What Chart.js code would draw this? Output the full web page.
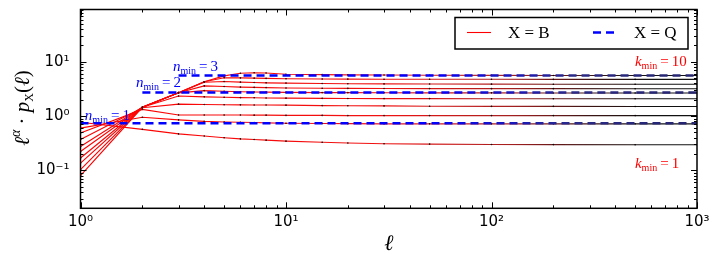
<!DOCTYPE html>
<html>
<head>
<meta charset="utf-8">
<script src="https://cdn.jsdelivr.net/npm/chart.js@4.4.1/dist/chart.umd.min.js"></script>
<style>
  body { margin: 0; background: #fff; }
</style>
</head>
<body>
<canvas id="plot" width="720" height="267"></canvas>
<script>
// sample points along ell (log axis)
const ells = [1, 2, 3, 4, 5, 6, 7, 8, 10, 15, 20, 30, 50, 100, 200, 500, 1000];

// X = B curves, one per k_min
const kmin1  = [0.77, 0.57, 0.47, 0.43, 0.40, 0.38, 0.37, 0.36, 0.345, 0.33, 0.32, 0.31, 0.305, 0.30, 0.298, 0.296, 0.296];
const kmin2  = [0.60, 0.95, 0.85, 0.80, 0.78, 0.77, 0.76, 0.75, 0.74, 0.73, 0.725, 0.72, 0.72, 0.72, 0.72, 0.72, 0.72];
const kmin3  = [0.49, 1.33, 1.05, 1.05, 1.05, 1.05, 1.04, 1.04, 1.03, 1.03, 1.02, 1.02, 1.02, 1.02, 1.02, 1.02, 1.02];
const kmin4  = [0.37, 1.42, 1.66, 1.64, 1.62, 1.61, 1.60, 1.60, 1.59, 1.56, 1.55, 1.54, 1.52, 1.51, 1.51, 1.50, 1.50];
const kmin5  = [0.275, 1.45, 2.35, 2.26, 2.22, 2.19, 2.17, 2.16, 2.14, 2.12, 2.11, 2.10, 2.10, 2.09, 2.09, 2.08, 2.08];
const kmin6  = [0.223, 1.45, 2.68, 2.95, 2.86, 2.81, 2.78, 2.76, 2.73, 2.71, 2.70, 2.69, 2.68, 2.68, 2.67, 2.67, 2.67];
const kmin7  = [0.169, 1.45, 2.70, 3.60, 3.50, 3.42, 3.38, 3.35, 3.30, 3.26, 3.24, 3.22, 3.21, 3.20, 3.20, 3.19, 3.19];
const kmin8  = [0.136, 1.45, 2.70, 4.20, 4.35, 4.22, 4.15, 4.10, 4.05, 3.98, 3.95, 3.92, 3.90, 3.88, 3.87, 3.86, 3.86];
const kmin9  = [0.103, 1.45, 2.70, 4.30, 5.10, 5.05, 5.00, 4.95, 4.87, 4.82, 4.80, 4.78, 4.77, 4.76, 4.75, 4.75, 4.75];
const kmin10 = [0.080, 1.45, 2.70, 4.30, 5.50, 6.15, 6.30, 6.22, 5.90, 5.80, 5.74, 5.70, 5.66, 5.63, 5.61, 5.60, 5.60];

// X = Q levels, each starting at ell = n_min
const nminStart  = [1, 2, 3];
const nminLevels = [0.74, 2.72, 5.6];

const redSeries = [kmin1, kmin2, kmin3, kmin4, kmin5, kmin6, kmin7, kmin8, kmin9, kmin10];

const tickFont = { family: 'DejaVu Sans', size: 15 };
const serif = '"Liberation Serif", "DejaVu Serif", serif';
const sup = { '-': '\u207B', '0': '\u2070', '1': '\u00B9', '2': '\u00B2', '3': '\u00B3' };

function powLabel(v) {
	const e = Math.log10(v);
	if (Math.abs(e - Math.round(e)) > 1e-6) return '';
	return '10' + String(Math.round(e)).split('').map(ch => sup[ch]).join('');
}

// horizontal colour fade along the x scale (red lines turn dark where the dots pile up)
function fade(stops) {
	return (c) => {
		const ch = c.chart, a = ch.chartArea, sx = ch.scales.x;
		if (!a || !sx) return stops[0][1];
		const g = ch.ctx.createLinearGradient(a.left, 0, a.right, 0);
		stops.forEach(([l, col]) => {
			const f = (sx.getPixelForValue(l) - a.left) / (a.right - a.left);
			g.addColorStop(Math.min(1, Math.max(0, f)), col);
		});
		return g;
	};
}

const redFade = fade([[1, '#ff0000'], [30, '#f01212'], [120, '#a82020'], [300, '#3c1414'], [600, '#111111']]);
const blueFade = fade([[1, '#0000ff'], [50, '#0000ff'], [250, '#2a2a88'], [1000, '#24246e']]);

const datasets = [];
redSeries.forEach(vals => {
	datasets.push({
		data: ells.map((l, i) => ({ x: l, y: vals[i] })),
		borderColor: redFade,
		borderWidth: 1.1,
		pointRadius: 0.8,
		pointBackgroundColor: '#000',
		pointBorderWidth: 0,
		tension: 0,
		order: 1
	});
});
nminLevels.forEach((v, i) => {
	datasets.push({
		data: [{ x: nminStart[i], y: v }, { x: 1000, y: v }],
		borderColor: blueFade,
		borderWidth: 2.6,
		borderDash: [8, 5],
		pointRadius: 0,
		order: 0
	});
});

// text runs: [text, font, dy]
function drawRuns(c, x, y, runs, align) {
	let w = 0;
	runs.forEach(r => { c.font = r[1]; w += c.measureText(r[0]).width; });
	let px = align === 'center' ? x - w / 2 : x;
	runs.forEach(r => {
		c.font = r[1];
		c.fillText(r[0], px, y + (r[2] || 0));
		px += c.measureText(r[0]).width;
	});
}

const notes = [
	{ l: 1.05, v: 0.855, sym: 'n', val: '1', color: '#0000ff' },
	{ l: 1.86, v: 3.46, sym: 'n', val: '2', color: '#0000ff' },
	{ l: 2.82, v: 6.63, sym: 'n', val: '3', color: '#0000ff' },
	{ l: 499, v: 8.2, sym: 'k', val: '10', color: '#ff0000' },
	{ l: 499, v: 0.110, sym: 'k', val: '1', color: '#ff0000' }
];

const deco = {
	id: 'deco',
	afterDraw(chart) {
		const c = chart.ctx, a = chart.chartArea, sx = chart.scales.x, sy = chart.scales.y;
		c.save();
		c.strokeStyle = '#000';
		c.lineWidth = 1;
		c.beginPath();
		for (let d = 0; d <= 3; d++) {
			for (let m = 1; m < 10; m++) {
				const v = m * Math.pow(10, d);
				if (v > 1000) break;
				const px = Math.round(sx.getPixelForValue(v)) + 0.5;
				const len = m === 1 ? 6 : 3;
				c.moveTo(px, a.bottom); c.lineTo(px, a.bottom - len);
				c.moveTo(px, a.top); c.lineTo(px, a.top + len);
			}
		}
		for (let d = -2; d <= 1; d++) {
			for (let m = 1; m < 10; m++) {
				const v = m * Math.pow(10, d);
				if (v < sy.min || v > sy.max) continue;
				const py = Math.round(sy.getPixelForValue(v)) + 0.5;
				const len = m === 1 ? 6 : 3;
				c.moveTo(a.left, py); c.lineTo(a.left + len, py);
				c.moveTo(a.right, py); c.lineTo(a.right - len, py);
			}
		}
		c.stroke();
		c.lineWidth = 1.5;
		c.strokeRect(a.left, a.top, a.right - a.left, a.bottom - a.top);

		// curve labels
		c.textBaseline = 'alphabetic';
		notes.forEach(n => {
			c.fillStyle = n.color;
			drawRuns(c, sx.getPixelForValue(n.l), sy.getPixelForValue(n.v), [
				[n.sym, 'italic 15px ' + serif],
				['min', '10px ' + serif, 3],
				['\u2009=\u2009' + n.val, '15px ' + serif]
			], 'left');
		});

		// legend
		c.fillStyle = '#fff';
		c.fillRect(455, 17.5, 233, 31.5);
		c.lineWidth = 1.5;
		c.strokeStyle = '#000';
		c.strokeRect(455, 17.5, 233, 31.5);
		c.beginPath();
		c.strokeStyle = '#ff0000';
		c.lineWidth = 1.1;
		c.moveTo(467, 32.5); c.lineTo(491, 32.5);
		c.stroke();
		c.beginPath();
		c.strokeStyle = '#0000ff';
		c.lineWidth = 2.6;
		c.setLineDash([8, 5]);
		c.moveTo(593, 32.5); c.lineTo(618, 32.5);
		c.stroke();
		c.setLineDash([]);
		c.fillStyle = '#000';
		c.font = '17px ' + serif;
		c.fillText('X = B', 508, 38);
		c.fillText('X = Q', 634, 38);

		// axis titles
		c.font = 'italic 22px ' + serif;
		c.textAlign = 'center';
		c.fillText('\u2113', (a.left + a.right) / 2, 250);
		c.textAlign = 'left';
		c.translate(29, 108);
		c.rotate(-Math.PI / 2);
		drawRuns(c, 0, 0, [
			['\u2113', 'italic 21px ' + serif],
			['\u03B1', 'italic 14px ' + serif, -9],
			[' \u00B7 ', '21px ' + serif],
			['p', 'italic 21px ' + serif],
			['X', '12px ' + serif, 4],
			['(', '21px ' + serif],
			['\u2113', 'italic 21px ' + serif],
			[')', '21px ' + serif]
		], 'center');
		c.restore();
	}
};

new Chart(document.getElementById('plot').getContext('2d'), {
	type: 'line',
	data: { datasets: datasets },
	options: {
		responsive: false,
		animation: false,
		devicePixelRatio: 1,
		layout: { padding: { top: 9.5, right: 23, left: 0, bottom: 0 } },
		plugins: { legend: { display: false }, tooltip: { enabled: false } },
		scales: {
			x: {
				type: 'logarithmic',
				min: 1,
				max: 1000,
				grid: { display: false, drawTicks: false },
				border: { display: false },
				ticks: { callback: v => powLabel(v), autoSkip: false, maxRotation: 0, font: tickFont, color: '#000', padding: 5 },
				afterFit: s => { s.height = 58.7; s.paddingLeft = 0; s.paddingRight = 0; }
			},
			y: {
				type: 'logarithmic',
				min: 0.02,
				max: 92,
				grid: { display: false, drawTicks: false },
				border: { display: false },
				ticks: { callback: v => powLabel(v), autoSkip: false, font: tickFont, color: '#000', padding: 11 },
				afterFit: s => { s.width = 80.5; s.paddingTop = 0; s.paddingBottom = 0; }
			}
		}
	},
	plugins: [deco]
});
</script>
</body>
</html>
